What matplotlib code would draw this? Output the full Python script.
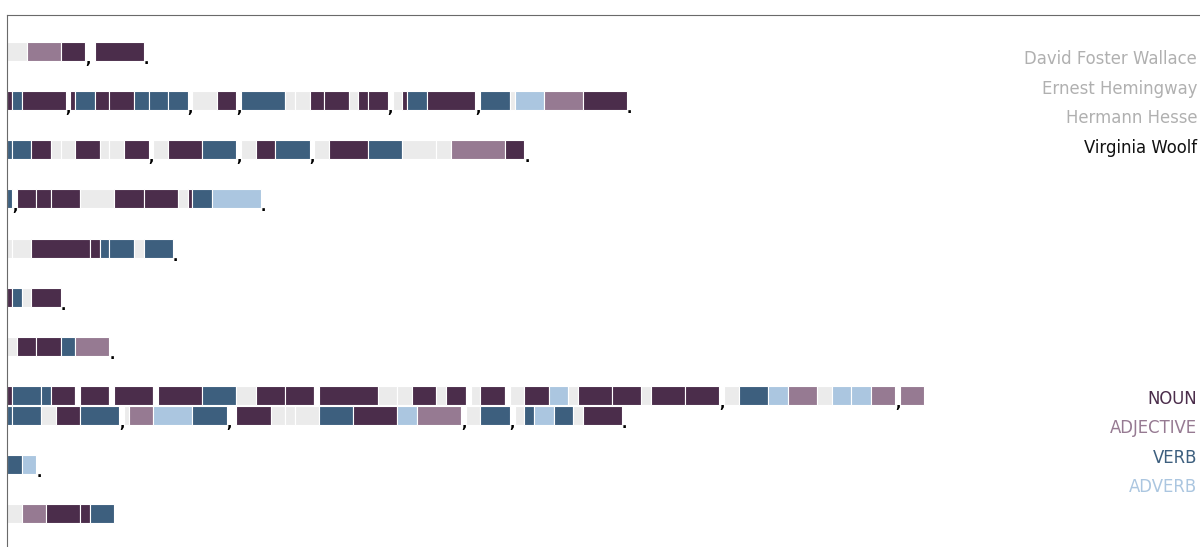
import matplotlib
matplotlib.use('Agg')
import matplotlib.pyplot as plt

# one token per word: tag + word length in characters
# N noun, A adjective, V verb, R adverb, O other word, _ blank,
# "," and "." punctuation (one character each), "/" wraps the line
sentences = [
    "O4 A7 N5 , _1 N10 .",
    "N1 V2 N9 , N1 V4 N3 N5 V3 V4 V4 , O5 N4 , V9 O2 O3 N3 N5 O2 N2 N4 , O2 N1 V4 N10 , V6 O1 R6 A8 N9 .",
    "V1 V4 N4 O2 O3 N5 O2 O3 N5 , O3 N7 V7 , O3 N4 V7 , O3 N8 V7 O7 O3 A11 N4 .",
    "V1 , N4 N3 N6 O7 N6 N7 O2 N1 V4 R10 .",
    "O1 O4 N12 N2 V2 V5 O2 V6 .",
    "N1 V2 O2 N6 .",
    "O2 N4 N5 V3 A7 .",
    "N1 V6 V2 N5 _1 N6 _1 N8 _1 N9 V7 O4 N6 N6 _1 N12 O4 O3 N5 O2 N4 _1 O2 N5 _1 O3 N5 R4 O2 N7 N6 O2 N7 N7 , "
    "O3 V6 R4 A6 O3 R4 R4 A5 , A5 / "
    "V1 V6 O3 N5 V8 , O1 A5 R8 V7 , _1 N7 O3 O2 O5 V7 N9 R4 A9 , O3 V6 , O2 V2 R4 V4 O2 N8 .",
    "V3 R3 .",
    "O3 A5 N7 N2 V5",
]

authors = ["David Foster Wallace", "Ernest Hemingway", "Hermann Hesse", "Virginia Woolf"]
selected = "Virginia Woolf"

pos_tags = ["N", "A", "V", "R"]
pos_labels = ["NOUN", "ADJECTIVE", "VERB", "ADVERB"]

colors = {'N': '#4b2d4b', 'A': '#967a92', 'V': '#3d5f7e', 'R': '#abc6e0',
          'O': '#ebebeb', '_': '#ffffff'}

W, H = 1200, 547
x0, y0 = 7, 15
char_w = 4.88
row_pitch = 49.15
line_pitch = 20
bar_h = 19

fig = plt.figure(figsize=(W / 100, H / 100), dpi=100)
ax = fig.add_axes([x0 / W, 0, (W - x0) / W, (H - y0) / H])
ax.set_xlim(0, (W - x0) / char_w)
ax.set_ylim(H - y0, 0)

lefts, widths, ys, cols = [], [], [], []
wraps = 0
for i, sent in enumerate(sentences):
    top = 27 + row_pitch * i + line_pitch * wraps
    pos = 0
    for tok in sent.split():
        if tok == '/':
            wraps += 1
            top += line_pitch
            pos = 0
            continue
        if tok in (',', '.'):
            ax.text(pos + 0.55, top + 22, tok, ha='center', va='baseline',
                    fontsize=10, fontweight='bold', color='black')
            pos += 1
            continue
        tag, n = tok[0], int(tok[1:])
        lefts.append(pos)
        widths.append(n)
        ys.append(top + bar_h / 2)
        cols.append(colors[tag])
        pos += n

ax.barh(ys, widths, left=lefts, height=bar_h, color=cols,
        edgecolor='white', linewidth=0.8)

for side in ['right', 'bottom']:
    ax.spines[side].set_visible(False)
for side in ['left', 'top']:
    ax.spines[side].set_color('#6a6a6a')
    ax.spines[side].set_linewidth(0.8)
ax.set_xticks([])
ax.set_yticks([])

for k, name in enumerate(authors):
    yc = 59 + 29.7 * k
    fig.text(1197 / W, 1 - yc / H, name, ha='right', va='center', fontsize=11.9,
             color='#111111' if name == selected else '#b0b0b0')

for k, (tag, lab) in enumerate(zip(pos_tags, pos_labels)):
    yc = 399 + 29.4 * k
    fig.text(1197 / W, 1 - yc / H, lab, ha='right', va='center', fontsize=11.9,
             color=colors[tag])

fig.savefig('out.png', dpi=100)
